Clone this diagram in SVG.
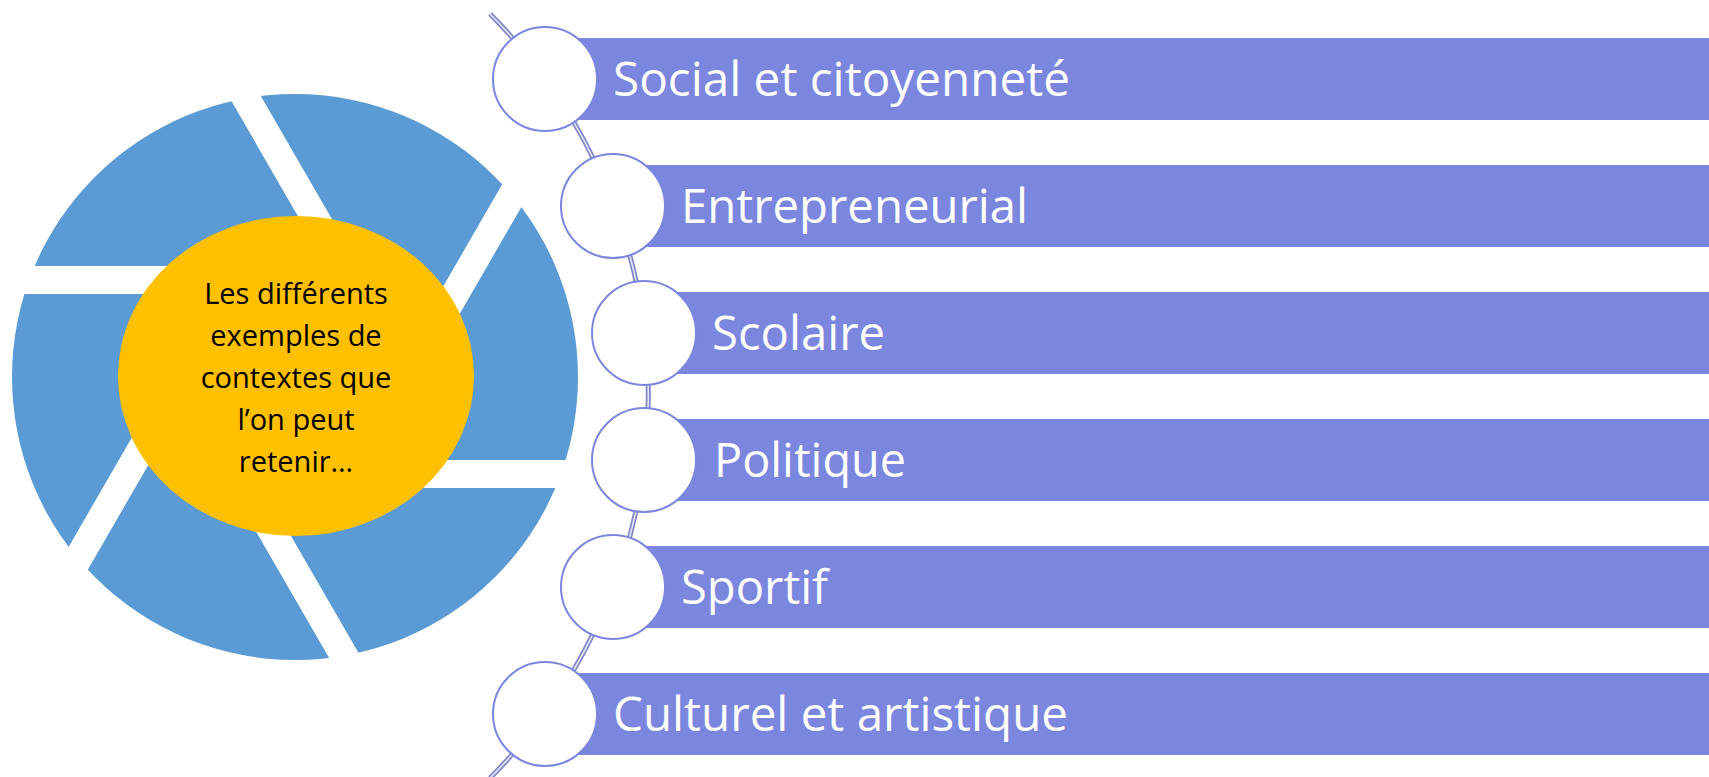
<svg xmlns="http://www.w3.org/2000/svg" width="1709" height="777" viewBox="0 0 1709 777">
<style>
.bar{fill:#7b86de}
.node{fill:#ffffff;stroke:#7b86de;stroke-width:2}
.lbl{font-family:"Open Sans","Liberation Sans",sans-serif;font-size:47px;fill:#ffffff}
.gap{stroke:#ffffff;stroke-width:28;fill:none}
.ctr{font-family:"Open Sans","Liberation Sans",sans-serif;font-size:29px;fill:#000000;text-anchor:middle}
</style>
<rect width="1709" height="777" fill="#ffffff"/>
<g id="aperture">
<circle cx="295" cy="377" r="283" fill="#5b9bd5"/>
<line class="gap" x1="295" y1="280" x2="-10" y2="280"/>
<line class="gap" x1="379" y1="328.5" x2="210" y2="36"/>
<line class="gap" x1="379" y1="425.5" x2="548" y2="133"/>
<line class="gap" x1="295" y1="474" x2="600" y2="474"/>
<line class="gap" x1="211" y1="425.5" x2="380" y2="718"/>
<line class="gap" x1="211" y1="328.5" x2="42" y2="621"/>
</g>
<g id="center">
<ellipse cx="296" cy="376" rx="178" ry="160" fill="#ffc000"/>
<text class="ctr" x="296" y="304">Les différents</text>
<text class="ctr" x="296" y="346">exemples de</text>
<text class="ctr" x="296" y="388">contextes que</text>
<text class="ctr" x="296" y="430">l’on peut</text>
<text class="ctr" x="296" y="472">retenir…</text>
</g>
<g id="connectors">
<path d="M490,14 A540,540 0 0 1 490,778" fill="none" stroke="#7f85c6" stroke-width="5"/>
<path d="M490,14 A540,540 0 0 1 490,778" fill="none" stroke="#e6e7f6" stroke-width="1.6"/>
</g>
<g id="item1">
<rect class="bar" x="545" y="38" width="1164" height="82"/>
<circle class="node" cx="545" cy="79" r="52"/>
<text class="lbl" x="613" y="96" textLength="457" lengthAdjust="spacingAndGlyphs">Social et citoyenneté</text>
</g>
<g id="item2">
<rect class="bar" x="613" y="165" width="1096" height="82"/>
<circle class="node" cx="613" cy="206" r="52"/>
<text class="lbl" x="681" y="223" textLength="347" lengthAdjust="spacingAndGlyphs">Entrepreneurial</text>
</g>
<g id="item3">
<rect class="bar" x="644" y="292" width="1065" height="82"/>
<circle class="node" cx="644" cy="333" r="52"/>
<text class="lbl" x="712" y="350" textLength="173" lengthAdjust="spacingAndGlyphs">Scolaire</text>
</g>
<g id="item4">
<rect class="bar" x="644" y="419" width="1065" height="82"/>
<circle class="node" cx="644" cy="460" r="52"/>
<text class="lbl" x="714" y="477" textLength="192" lengthAdjust="spacingAndGlyphs">Politique</text>
</g>
<g id="item5">
<rect class="bar" x="613" y="546" width="1096" height="82"/>
<circle class="node" cx="613" cy="587" r="52"/>
<text class="lbl" x="681" y="604" textLength="147" lengthAdjust="spacingAndGlyphs">Sportif</text>
</g>
<g id="item6">
<rect class="bar" x="545" y="673" width="1164" height="82"/>
<circle class="node" cx="545" cy="714" r="52"/>
<text class="lbl" x="613" y="731" textLength="455" lengthAdjust="spacingAndGlyphs">Culturel et artistique</text>
</g>
</svg>
